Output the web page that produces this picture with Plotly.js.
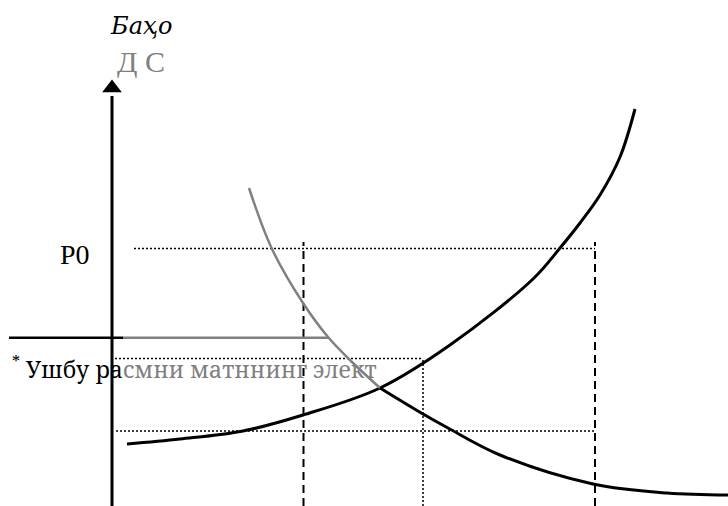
<!DOCTYPE html>
<html>
<head>
<meta charset="utf-8">
<script src="https://cdn.plot.ly/plotly-3.0.1.min.js"></script>
<style>
  body { margin: 0; background: #fff; }
  #graph { width: 728px; height: 506px; }
</style>
</head>
<body>
<div id="graph"></div>
<script>
// Supply curve (quantity, price)
const supplyQ = [127, 180, 243, 303, 380, 450, 533, 560, 580, 600, 620, 635];
const supplyP = [62, 67, 75, 91, 118, 161, 227, 258, 283, 311, 349, 397];

// Demand curve, upper part (grey) and lower part (black)
const demandTopQ = [249, 272, 303, 328, 352, 380];
const demandTopP = [318, 257, 203, 169, 144, 118];
const demandLowQ = [380, 423, 448, 500, 593, 667, 728];
const demandLowP = [118, 92, 78, 51, 22, 13, 11];

// Guide levels
const p0Level = 257.5;
const midLevel = 147.5;
const lowLevel = 75;
const lineLevel = 168.3;
const q1 = 303.5, q2 = 423, q3 = 595;
const axisQ = 112, axisTop = 410;

const GREY = '#808080';

function line(x, y, color, width, dash, shape) {
    return {
        x: x, y: y,
        type: 'scatter',
        mode: 'lines',
        hoverinfo: 'skip',
        line: { color: color, width: width, dash: dash || 'solid', shape: shape || 'linear' }
    };
}

const traces = [
    // dotted guides
    line([134, q3], [p0Level, p0Level], '#000', 1.5, '2px,2px'),
    line([115, q2], [midLevel, midLevel], '#000', 1.5, '2px,2px'),
    line([q2, q2], [0, midLevel], '#000', 1.5, '2px,2px'),
    line([116, q3], [lowLevel, lowLevel], '#000', 1.5, '2px,2px'),
    // dashed verticals
    line([q1, q1], [0, 264], '#000', 2, '8px,5px'),
    line([q3, q3], [0, 264], '#000', 2, '8px,5px'),
    // horizontal line
    line([9, 123], [lineLevel, lineLevel], '#000', 2.5),
    line([123, 328], [lineLevel, lineLevel], GREY, 2.5),
    // price axis
    line([axisQ, axisQ], [0, axisTop], '#000', 3),
    {
        x: [axisQ], y: [axisTop + 8],
        type: 'scatter', mode: 'markers', hoverinfo: 'skip',
        marker: { symbol: 'triangle-up', size: 17, color: '#000' }
    },
    // curves
    line(supplyQ, supplyP, '#000', 3, 'solid', 'spline'),
    line(demandTopQ, demandTopP, GREY, 2.5, 'solid', 'spline'),
    line(demandLowQ, demandLowP, '#000', 3, 'solid', 'spline')
];

const layout = {
    width: 728,
    height: 506,
    margin: { l: 0, r: 0, t: 0, b: 0 },
    paper_bgcolor: '#fff',
    plot_bgcolor: '#fff',
    showlegend: false,
    xaxis: { range: [0, 728], visible: false, fixedrange: true },
    yaxis: { range: [0, 506], visible: false, fixedrange: true },
    annotations: [
        { x: 108, y: 480, text: '<i>Баҳо</i>', xanchor: 'left', yanchor: 'middle',
          showarrow: false, font: { family: 'DejaVu Serif', size: 24, color: '#000' } },
        { x: 115, y: 445, text: 'Д С', xanchor: 'left', yanchor: 'middle',
          showarrow: false, font: { family: 'serif', size: 30, color: GREY } },
        { x: 58, y: 252, text: 'P0', xanchor: 'left', yanchor: 'middle',
          showarrow: false, font: { family: 'Times New Roman', size: 28, color: '#000' } },
        { x: 10, y: 138, xanchor: 'left', yanchor: 'middle', showarrow: false,
          text: '<sup>*</sup> Ушбу ра<span style="color:' + GREY + '">смни матннинг элект</span>',
          font: { family: 'Noto Serif', size: 23, color: '#000' } }
    ]
};

Plotly.newPlot('graph', traces, layout, { staticPlot: true, displayModeBar: false });
</script>
</body>
</html>
